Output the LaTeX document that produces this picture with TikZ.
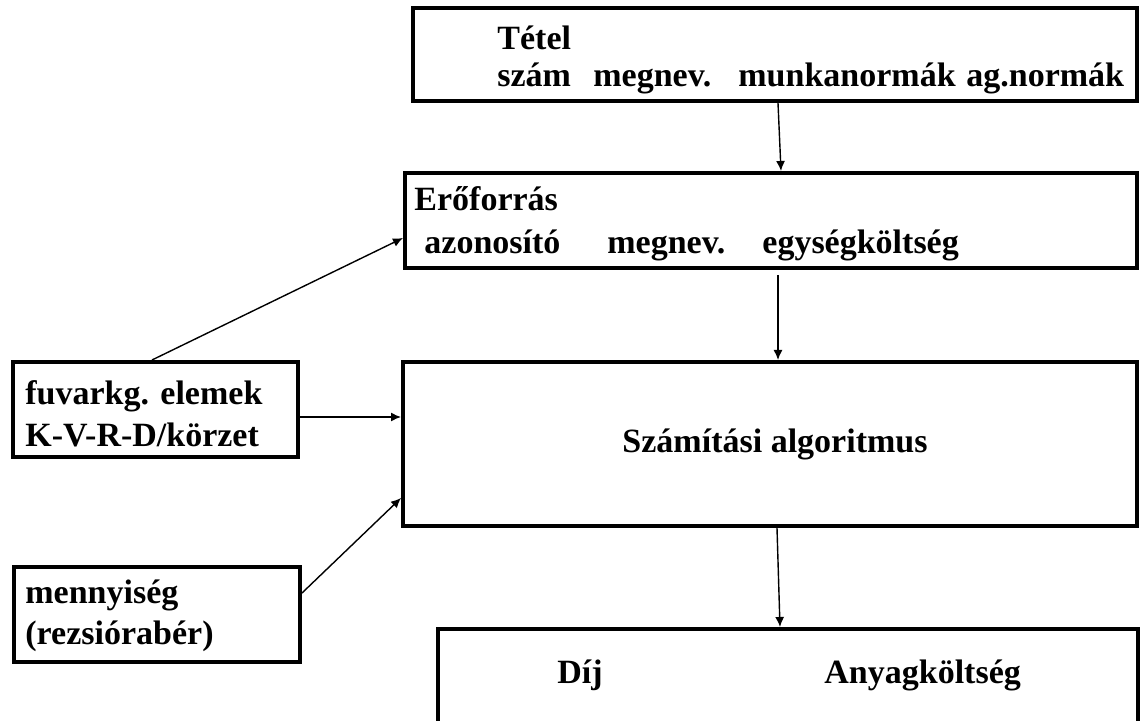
\documentclass[tikz,border=0pt]{standalone}
\usepackage{fontspec}
\setmainfont{Liberation Serif}
\usetikzlibrary{positioning,arrows.meta}

\tikzset{
	box/.style={draw, line width=2pt, inner sep=0pt},
	lbl/.style={anchor=base west, inner sep=0pt, font=\bfseries\fontsize{17}{20}\selectfont},
	arr/.style={-{Latex[length=5pt,width=4.5pt]}, line width=0.7pt},
}

\begin{document}
\begin{tikzpicture}[x=0.5pt,y=-0.5pt]
	\useasboundingbox (0,0) rectangle (1140,721);
	% boxes
	\node[box, minimum width=362pt, minimum height=46.5pt] (tetel) at (775,54.5) {};
	\node[box, minimum width=366pt, minimum height=47.5pt] (eroforras) at (771,220.5) {};
	\node[box, minimum width=367pt, minimum height=82pt] (szamitas) at (770,444) {};
	\node[box, minimum width=142.5pt, minimum height=47.5pt] (fuvar) at (155.5,409.5) {};
	\node[box, minimum width=143pt, minimum height=47.5pt] (mennyiseg) at (157,614.5) {};
	\node[box, minimum width=350pt, minimum height=75pt] (dij) at (788,704) {};
	% texts
	\node[lbl] (tetelcim) at (497,50) {Tétel};
	\node[lbl] (szam) at (497,87) {szám};
	\node[lbl] (megnev) at (593,87) {megnev.};
	\node[lbl] (munka) at (738,87) {munkanormák};
	\node[lbl] (agnorma) at (966,87) {ag.normák};
	\node[lbl] (erocim) at (414,211) {Erőforrás};
	\node[lbl] (azon) at (424,254) {azonosító};
	\node[lbl] (megnev2) at (607,254) {megnev.};
	\node[lbl] (egyseg) at (762,254) {egységköltség};
	\node[lbl] (fuvar1) at (25,405) {fuvarkg. elemek};
	\node[lbl] (fuvar2) at (25,446) {K-V-R-D/körzet};
	\node[lbl, anchor=base] (algo) at (775,452) {Számítási algoritmus};
	\node[lbl] (menny1) at (25,603) {mennyiség};
	\node[lbl] (menny2) at (25,644) {(rezsiórabér)};
	\node[lbl] (dijcim) at (557,683) {Díj};
	\node[lbl] (anyag) at (824,683) {Anyagköltség};
	% arrows
	\draw[arr] ([xshift=1.5pt]tetel.south) -- ([xshift=5pt]eroforras.north);
	\draw[arr] ([xshift=3.5pt,yshift=-2.5pt]eroforras.south) -- ([xshift=4pt]szamitas.north);
	\draw[arr] ([xshift=-1.75pt]fuvar.north) -- ([yshift=-8.75pt]eroforras.west);
	\draw[arr] ([yshift=-3.75pt]fuvar.east) -- ([yshift=-3.75pt]fuvar.east -| szamitas.west);
	\draw[arr] ([yshift=10.75pt]mennyiseg.east) -- ([yshift=-27pt]szamitas.west);
	\draw[arr] ([xshift=3.5pt]szamitas.south) -- ([xshift=-4pt]dij.north);
\end{tikzpicture}
\end{document}
